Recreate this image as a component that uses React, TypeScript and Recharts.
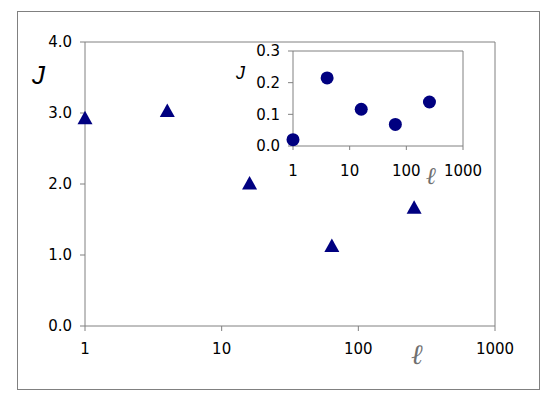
import React from "react";
import { ScatterChart, Scatter, XAxis, YAxis, ReferenceLine } from "recharts";

const lengths = [1, 4, 16, 64, 256];
const mainJ = [2.92, 3.02, 2.0, 1.12, 1.66];
const insetJ = [0.02, 0.215, 0.116, 0.068, 0.139];
const xTicks = [1, 10, 100, 1000];
const mainYTicks = [0, 1, 2, 3, 4];
const insetYTicks = [0, 0.1, 0.2, 0.3];

const mainData = lengths.map((l, i) => ({ l, j: mainJ[i] }));
const insetData = lengths.map((l, i) => ({ l, j: insetJ[i] }));

const NAVY = "#000080";
const GRAY = "#808080";
const FONT = "'DejaVu Sans', sans-serif";
const tickStyle = { fontSize: 15, fill: "#000", fontFamily: FONT };

const Triangle = (props: any) => {
	const { cx, cy } = props;
	return <polygon points={`${cx},${cy - 8} ${cx - 7.5},${cy + 5.5} ${cx + 7.5},${cy + 5.5}`} fill={NAVY} />;
};

const Dot = (props: any) => {
	const { cx, cy } = props;
	return <circle cx={cx} cy={cy} r={6.5} fill={NAVY} />;
};

export default function App() {
	return (
		<div style={{ position: "absolute", left: 0, top: 0, width: 554, height: 403, background: "#fff" }}>
			<div style={{ position: "absolute", left: 17, top: 11, width: 523, height: 379, border: `1px solid ${GRAY}`, boxSizing: "border-box" }} />
			<div style={{ position: "absolute", left: 0, top: 0 }}>
				<ScatterChart width={554} height={403} margin={{ top: 42, right: 59, bottom: 47, left: 0 }}>
					<XAxis
						dataKey="l"
						type="number"
						scale="log"
						domain={[1, 1000]}
						ticks={xTicks}
						height={30}
						stroke={GRAY}
						tickSize={5}
						tickMargin={12}
						tick={tickStyle}
					/>
					<YAxis
						dataKey="j"
						type="number"
						domain={[0, 4]}
						ticks={mainYTicks}
						width={85}
						stroke={GRAY}
						tickSize={5}
						tickMargin={8}
						tick={tickStyle}
						tickFormatter={(v: number) => v.toFixed(1)}
					/>
					<ReferenceLine y={4} stroke={GRAY} />
					<ReferenceLine x={1000} stroke={GRAY} />
					<Scatter data={mainData} shape={Triangle} isAnimationActive={false} />
				</ScatterChart>
			</div>
			<div style={{ position: "absolute", left: 230, top: 30 }}>
				<ScatterChart width={280} height={170} margin={{ top: 21, right: 47, bottom: 24, left: 0 }}>
					<XAxis
						dataKey="l"
						type="number"
						scale="log"
						domain={[1, 1000]}
						ticks={xTicks}
						height={30}
						stroke={GRAY}
						tickSize={4}
						tickMargin={15}
						tick={tickStyle}
					/>
					<YAxis
						dataKey="j"
						type="number"
						domain={[0, 0.3]}
						ticks={insetYTicks}
						width={63}
						stroke={GRAY}
						tickSize={5}
						tickMargin={8}
						tick={tickStyle}
						tickFormatter={(v: number) => v.toFixed(1)}
					/>
					<ReferenceLine y={0.3} stroke={GRAY} />
					<ReferenceLine x={1000} stroke={GRAY} />
					<Scatter data={insetData} shape={Dot} isAnimationActive={false} />
				</ScatterChart>
			</div>
			<div style={{ position: "absolute", left: 32, top: 60, fontFamily: "'Liberation Sans', sans-serif", fontStyle: "italic", fontSize: 26, lineHeight: "30px" }}>J</div>
			<div style={{ position: "absolute", left: 236, top: 63, fontFamily: "'Liberation Sans', sans-serif", fontStyle: "italic", fontSize: 18, lineHeight: "20px" }}>J</div>
			<div style={{ position: "absolute", left: 411, top: 338, fontFamily: "'DejaVu Serif', serif", fontStyle: "italic", fontSize: 28, lineHeight: "34px", color: "#707070" }}>ℓ</div>
			<div style={{ position: "absolute", left: 426, top: 162, fontFamily: "'DejaVu Serif', serif", fontStyle: "italic", fontSize: 24, lineHeight: "28px", color: "#707070" }}>ℓ</div>
		</div>
	);
}
